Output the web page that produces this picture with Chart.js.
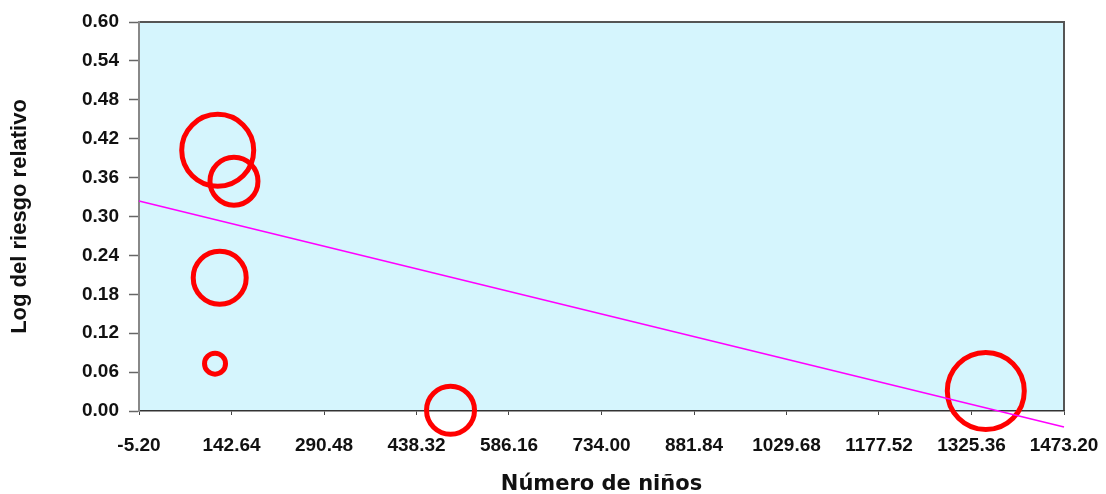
<!DOCTYPE html>
<html>
<head>
<meta charset="utf-8">
<script src="https://cdn.jsdelivr.net/npm/chart.js@4/dist/chart.umd.min.js"></script>
<style>
  html, body { margin: 0; padding: 0; background: #ffffff; }
  #wrap { width: 1106px; height: 494px; }
</style>
</head>
<body>
<div id="wrap"><canvas id="chart" width="1106" height="494"></canvas></div>
<script>
// Studies: number of children, log relative risk, bubble radius (weight)
const numChildren = [120.6, 146.6, 123.8, 116.3, 492.7, 1348.2];
const logRR       = [0.402, 0.3545, 0.2054, 0.073, 0.0012, 0.0308];
const bubbleR     = [36, 24, 26.5, 10.5, 24, 38.5];

// Meta-regression fit line
const fitX = [-5.2, 1473.2];
const fitY = [0.324, -0.0247];

// Axis ticks
const xTicks = [-5.20, 142.64, 290.48, 438.32, 586.16, 734.00, 881.84, 1029.68, 1177.52, 1325.36, 1473.20];
const yTicks = [0.00, 0.06, 0.12, 0.18, 0.24, 0.30, 0.36, 0.42, 0.48, 0.54, 0.60];

const bubbles = numChildren.map((x, i) => ({ x: x, y: logRR[i], r: bubbleR[i] }));
const fitLine = fitX.map((x, i) => ({ x: x, y: fitY[i] }));

// Bubbles are allowed to spill past the plot frame, so no extra layout padding for them
Chart.registry.getController('bubble').prototype.getMaxOverflow = function () { return false; };

// Plot-area background and frame
const plotFrame = {
  id: 'plotFrame',
  beforeDraw(chart) {
    const { ctx, chartArea: a } = chart;
    ctx.save();
    ctx.fillStyle = '#d5f5fd';
    ctx.fillRect(a.left, a.top, a.right - a.left, a.bottom - a.top);
    ctx.strokeStyle = '#555555';
    ctx.lineWidth = 2;
    ctx.beginPath();
    ctx.moveTo(a.left, a.top);
    ctx.lineTo(a.right, a.top);
    ctx.lineTo(a.right, a.bottom);
    ctx.stroke();
    ctx.restore();
  }
};

const tickFont = { family: '"Liberation Sans", Arial, sans-serif', size: 19, weight: 'bold' };

new Chart(document.getElementById('chart'), {
  type: 'bubble',
  data: {
    datasets: [
      {
        type: 'bubble',
        data: bubbles,
        backgroundColor: 'rgba(0,0,0,0)',
        borderColor: '#ff0000',
        borderWidth: 5,
        hoverBorderWidth: 5,
        clip: false,
        order: 2
      },
      {
        type: 'line',
        data: fitLine,
        borderColor: '#ff00ff',
        borderWidth: 1.6,
        pointRadius: 0,
        fill: false,
        tension: 0,
        clip: false,
        order: 1
      }
    ]
  },
  options: {
    responsive: false,
    animation: false,
    events: [],
    layout: { padding: { top: 22, right: 42, left: 0, bottom: 0 } },
    plugins: { legend: { display: false }, tooltip: { enabled: false } },
    scales: {
      x: {
        type: 'linear',
        min: -5.2,
        max: 1473.2,
        afterBuildTicks(scale) { scale.ticks = xTicks.map(v => ({ value: v })); },
        afterFit(scale) {
          scale.height = 83;
          scale.paddingLeft = 0;
          scale.paddingRight = 0;
        },
        ticks: {
          autoSkip: false,
          maxRotation: 0,
          color: '#111111',
          font: tickFont,
          padding: 19,
          callback: v => Number(v).toFixed(2)
        },
        grid: { drawOnChartArea: false, tickLength: 4, color: '#444444', tickWidth: 1 },
        border: { display: true, color: '#333333', width: 1.5 },
        title: {
          display: true,
          text: 'Número de niños',
          color: '#111111',
          font: { family: '"DejaVu Sans", sans-serif', size: 21, weight: 'bold', lineHeight: 0.9 },
          padding: { top: 0, bottom: 0 }
        }
      },
      y: {
        type: 'linear',
        min: 0,
        max: 0.6,
        afterBuildTicks(scale) { scale.ticks = yTicks.map(v => ({ value: v })); },
        afterFit(scale) { scale.width = 139; },
        ticks: {
          autoSkip: false,
          color: '#111111',
          font: tickFont,
          padding: 10,
          callback: v => Number(v).toFixed(2)
        },
        grid: { drawOnChartArea: false, tickLength: 10, color: '#666666', tickWidth: 1.5 },
        border: { display: true, color: '#888888', width: 2 },
        title: {
          display: true,
          text: 'Log del riesgo relativo',
          color: '#111111',
          font: { family: '"Liberation Sans", Arial, sans-serif', size: 22, weight: 'bold', lineHeight: 0.9 },
          padding: { top: 10, bottom: 0 }
        }
      }
    }
  },
  plugins: [plotFrame]
});
</script>
</body>
</html>
